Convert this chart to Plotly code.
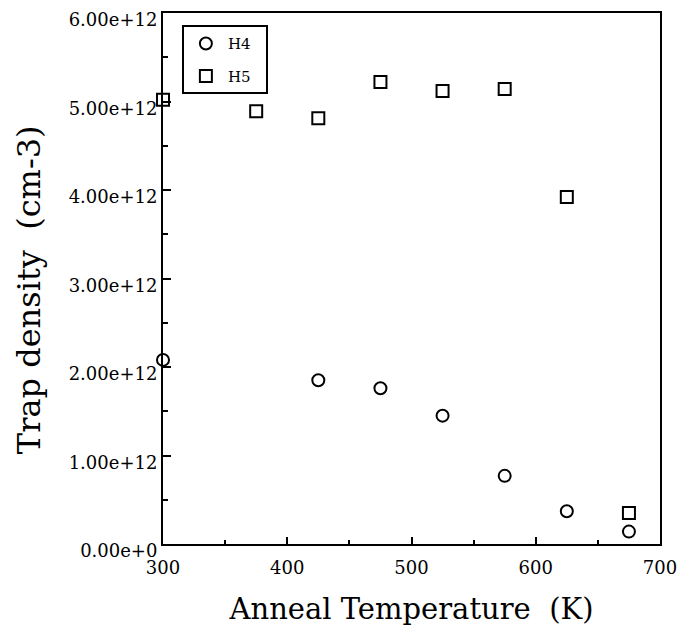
import plotly.graph_objects as go

temp_h4 = [300, 425, 475, 525, 575, 625, 675]
dens_h4 = [2.08e12, 1.85e12, 1.76e12, 1.45e12, 0.77e12, 0.37e12, 0.14e12]
temp_h5 = [300, 375, 425, 475, 525, 575, 625, 675]
dens_h5 = [5.02e12, 4.89e12, 4.81e12, 5.22e12, 5.12e12, 5.14e12, 3.92e12, 0.35e12]
y_tickvals = [0, 1e12, 2e12, 3e12, 4e12, 5e12, 6e12]
y_ticktext = ["0.00e+0", "1.00e+12", "2.00e+12", "3.00e+12", "4.00e+12", "5.00e+12", "6.00e+12"]
x_tickvals = [300, 400, 500, 600, 700]

FONT = "DejaVu Serif"
NB = "\u00a0"

fig = go.Figure()
fig.add_trace(go.Scatter(
    x=temp_h4, y=dens_h4, mode="markers", name="H4" + NB * 2, legendgroup="a",
    marker=dict(symbol="circle-open", size=12, color="black", line=dict(width=2, color="black")),
    cliponaxis=False,
))
fig.add_trace(go.Scatter(
    x=temp_h5, y=dens_h5, mode="markers", name="H5" + NB * 2, legendgroup="b",
    marker=dict(symbol="square-open", size=12, color="black", line=dict(width=2, color="black")),
    cliponaxis=False,
))

fig.update_layout(
    width=683, height=618,
    margin=dict(l=155, r=31, t=5, b=82, autoexpand=False),
    plot_bgcolor="white", paper_bgcolor="white",
    font=dict(family=FONT, color="black"),
    showlegend=True,
    legend=dict(
        x=0.038, y=0.977, xanchor="left", yanchor="top",
        bordercolor="black", borderwidth=2, bgcolor="white",
        font=dict(size=15, family=FONT), tracegroupgap=10,
        itemwidth=34,
    ),
    xaxis=dict(
        range=[300, 700], tickvals=x_tickvals, automargin=True,
        ticks="inside", ticklen=7, tickwidth=2, tickcolor="black",
        minor=dict(dtick=50, ticks="inside", ticklen=4, tickwidth=1.5, tickcolor="black"),
        showline=True, linewidth=2, linecolor="black", mirror=True,
        showgrid=False, zeroline=False, ticklabelstandoff=6,
        tickfont=dict(size=18, family=FONT),
        title=dict(text="Anneal Temperature  (K)", font=dict(size=29, family=FONT), standoff=26),
    ),
    yaxis=dict(
        range=[0, 6e12], tickvals=y_tickvals, ticktext=y_ticktext, automargin=True,
        ticks="inside", ticklen=8, tickwidth=2, tickcolor="black",
        minor=dict(dtick=0.5e12, ticks="inside", ticklen=5, tickwidth=1.5, tickcolor="black"),
        showline=True, linewidth=2, linecolor="black", mirror=True,
        showgrid=False, zeroline=False,
        ticklabelshift=7, ticklabeloverflow="allow",
        tickfont=dict(size=18, family=FONT),
    ),
    annotations=[dict(
        text="Trap density  (cm-3)", textangle=-90,
        xref="paper", yref="paper", x=0, y=0.478,
        xanchor="center", yanchor="middle", xshift=-134,
        showarrow=False, font=dict(size=32, family=FONT),
    )],
)

fig.write_html("out.html")
